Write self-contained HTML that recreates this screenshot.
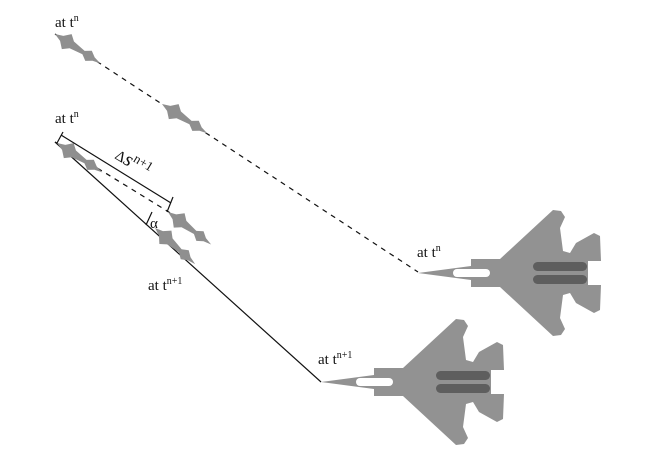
<!DOCTYPE html>
<html><head><meta charset="utf-8"><style>
html,body{margin:0;padding:0;background:#fff;width:668px;height:470px;overflow:hidden}
text{font-family:"Liberation Serif",serif;font-size:15px;fill:#111}
</style></head><body>
<svg width="668" height="470" viewBox="0 0 668 470">
<defs>
<g id="jet">
<path d="M0,0 L53,-7 L53,-14 L82,-14 L135,-63 L143,-62 L147,-56 L142,-45 L145,-22 L152,-20 L158,-30 L176,-40 L182,-37 L183,-12 L170,-12 L170,12 L183,12 L182,37 L176,40 L158,30 L152,20 L145,22 L142,45 L147,56 L143,62 L135,63 L82,14 L53,14 L53,7 Z" fill="#929292"/>
<rect x="35" y="-4" width="37" height="8" rx="4" fill="#fff"/>
<rect x="115" y="-11" width="54" height="9" rx="4.5" fill="#5e5e5e"/>
<rect x="115" y="2" width="54" height="9" rx="4.5" fill="#5e5e5e"/>
</g>
<g id="missile">
<path d="M0,0 L8,-3 L14,-9 L20,-4 L34,-2 L40,-6 L46,-2 L54,0 L46,2 L40,6 L34,2 L20,4 L14,9 L8,3 Z" fill="#8f8f8f"/>
</g>
</defs>

<g>
<line x1="55" y1="34" x2="418" y2="272" stroke="#111" stroke-width="1.2" stroke-dasharray="5,5"/>
</g>
<use href="#missile" transform="translate(55,34) rotate(33)"/>
<use href="#missile" transform="translate(162,104) rotate(33)"/>

<line x1="55" y1="142" x2="172" y2="214" stroke="#111" stroke-width="1.2" stroke-dasharray="5,5"/>
<line x1="55" y1="142" x2="321" y2="382" stroke="#111" stroke-width="1.2"/>
<use href="#missile" transform="translate(57,143) rotate(33)"/>
<use href="#missile" transform="translate(168,212) rotate(37)"/>
<use href="#missile" transform="translate(155,228) rotate(42)"/>

<g stroke="#111" stroke-width="1.2">
<line x1="63" y1="132" x2="57" y2="143"/>
<line x1="61" y1="135" x2="171" y2="203"/>
<line x1="173" y1="197" x2="167" y2="212"/>
<line x1="152" y1="212" x2="146" y2="225"/>
</g>
<text x="114" y="158" transform="rotate(31 114 158)" font-size="17">Δ<tspan font-style="italic" font-size="20">s</tspan><tspan dy="-7" font-size="13">n+1</tspan></text>
<text x="150" y="228" font-size="16">α</text>

<use href="#jet" transform="translate(418,273)"/>
<use href="#jet" transform="translate(321,382)"/>

<text x="55" y="27">at t<tspan dy="-6" font-size="10">n</tspan></text>
<text x="55" y="123">at t<tspan dy="-6" font-size="10">n</tspan></text>
<text x="148" y="290">at t<tspan dy="-6" font-size="10">n+1</tspan></text>
<text x="417" y="257">at t<tspan dy="-6" font-size="10">n</tspan></text>
<text x="318" y="364">at t<tspan dy="-6" font-size="10">n+1</tspan></text>
</svg>
</body></html>
